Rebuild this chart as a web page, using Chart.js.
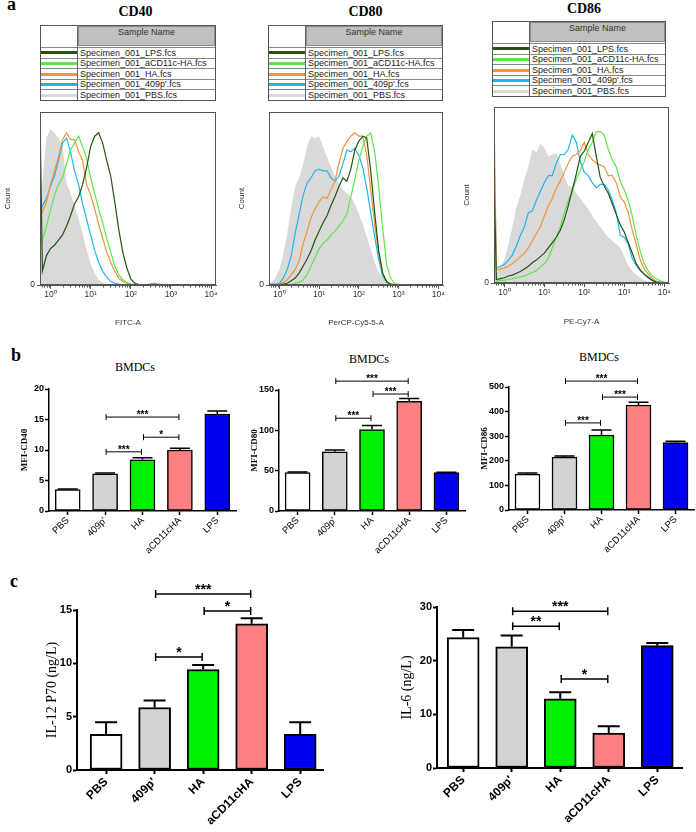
<!DOCTYPE html>
<html><head><meta charset="utf-8">
<script src="https://cdn.jsdelivr.net/npm/chart.js@4.4.1/dist/chart.umd.min.js"></script>
<style>
html,body{margin:0;padding:0;background:#fff;}
#page{position:relative;width:696px;height:832px;overflow:hidden;background:#fff;}
.t{position:absolute;white-space:nowrap;line-height:1;color:#000;}
canvas{position:absolute;}
</style></head>
<body><div id="page"></div>
<script>
// ---------- DATA ----------
const legendNames = ['Specimen_001_LPS.fcs','Specimen_001_aCD11c-HA.fcs','Specimen_001_HA.fcs',"Specimen_001_409p'.fcs",'Specimen_001_PBS.fcs'];
const seriesColors = ['#245414','#5fe64a','#f39237','#22b4ec','#d9d9d9'];
const decadeLabels = ['10\u2070','10\u00b9','10\u00b2','10\u00b3','10\u2074'];
// log10 fluorescence bins
const logGrid = [-0.26,-0.2,-0.1,0,0.1,0.2,0.3,0.4,0.5,0.6,0.7,0.8,0.9,1,1.1,1.2,1.3,1.4,1.5,1.6,1.7,1.8,1.9,2,2.1,2.2,2.3,2.4,2.5,2.6,2.7,2.8,2.9,3,3.1,3.2,3.3,3.4,3.5,3.6,3.7,3.8,3.9,4,4.1];

const cd40LPS = [98,8,17, 21,23,26,29,34,40,47,51,58,68, 80,86,88,82,72,63,48,32,19,10, 3.5,1,0.3,0,0,0,0,0,0,0, 0,0,0,0,0,0,0,0,0,0, 0,0];
const cd40aCD = [22,26,34, 43,52,58,62,70,78,82,86,80,73, 62,53,44,36,27,19,11,6,3,1.5, 0.5,0.2,0,0,0,0,0,0,0,0, 0,0,0,0,0,0,0,0,0,0, 0,0];
const cd40HA  = [45,42,48, 58,66,74,84,88,84,84,77,72,58, 52,44,35,27,19,13,8,4,2,1, 0.3,0,0,0,0,0.8,1,0.5,0,0, 0,0,0,0,0,0,0,0,0,0, 0,0];
const cd40P409= [40,46,50, 57,63,72,82,85,77,66,58,47,38, 29,20,13,8,4.5,2,1,0.5,0,0, 0,0,0,0,0,0,0,0,0,0, 0,0,0,0,0,0,0,0,0,0, 0,0];
const cd40PBS = [40,60,85, 90,88,85,81,59,53,46,38,30,20, 12.5,7,3,1.3,0.5,0,0,0,0,0, 0,0,0,0,0,0,0,0,0,0, 0,0,0,0,0,0,0,0,0,0, 0,0];

const cd80LPS = [0,0,0, 0.3,0.5,1,2.5,4,7,11,15,20,26, 31,36,40,46,51,57,62,60,67,78, 83,86,85,66,42,20,7,2,0.5,0.2, 0,0,0,0,0,0,0,0,0,0, 0,0];
const cd80aCD = [0,0,0, 0,0,0,0.3,1,1.5,3,6,11,16, 21,24,26,29,31,34,37,41,51,61, 72,80,86,88,77,57,33,12,4,1, 0.3,0,0,0,0,0,0,0,0,0, 0,0];
const cd80HA  = [0,0,0.2, 0.5,1.5,3,6,9,14,24,31,39,44, 48,51,50,55,60,70,79,83,86,88, 86,86,75,55,35,19,7,2,0.5,0, 0,0,0,0,0,0,0,0,0,0, 0,0];
const cd80P409= [0.5,0.5,0.5, 1,4,9,17,30,41,52,59,62,66, 67,66,66,62,60,63,70,78,77,79, 75,68,56,42,28,15,5,1.5,0.3,0, 0,0,0,0,0,0,0,0,0,0, 0,0];
const cd80PBS = [1,1.5,4, 9,18,30,45,57,62,70,80,86,85, 86,80,74,68,63,59,55,53,51,47, 41,35,28,21,13,7.5,4,2,1,0.3, 0,0,0,0,0,0,0,0,0,0, 0,0];

const cd86LPS = [60,2,2.5, 3,4,4.5,5.5,6.5,8,9.5,11.5,13,15, 17,20,23,26,30,36,44,53,62,72, 75,80,85,72,60,55,51,45,39,33, 29,23,17,11,7.5,5,3,1.5,0.5,0.2, 0,0];
const cd86aCD = [30,1,1.5, 1.5,2,2.5,3,3.5,4,5,6,7,9, 11,14,20,26,32,40,47,52,59,64, 69,76,80,86,86,84,76,70,66,58, 53,47,38,27,18,11,7,4,2.5,1.2, 0.5,0.2];
const cd86HA  = [97,7.5,8, 8.5,9.5,11,13,15,17,20,24,28,32, 38,44,48,54,58,63,68,72,73,75, 80,73,70,68,67,66,61,61,57,49, 46,40,30,22,13,8,5,2.5,1,0.3, 0,0];
const cd86P409= [78,8.5,9.5, 10.5,13,16,21,27,32,40,41,47,52, 57,61,61,68,73,73,76,84,80,69, 63,61,57,54,56,56,53,47,40,27, 26,22,14,10,7,5,3.5,2,1,0.5, 0.2,0];
const cd86PBS = [3,6,9, 13,22,32,43,50,59,66,76,74,79, 77,72,73,74,68,61,55,55,51,48, 45,42,38,35,32,29,26,24,22,20, 15,10,7,4.5,3,1.5,0.8,0.3,0,0, 0,0];

const categories = ['PBS',"409p'",'HA','aCD11cHA','LPS'];
const barColors = ['#ffffff','#d3d3d3','#00ee00','#ff8080','#0000f0'];

const mfiCD40 = [3.5, 6.1, 8.4, 10.0, 15.9];
const errCD40 = [0.1, 0.15, 0.35, 0.3, 0.5];
const mfiCD80 = [47.5, 73.5, 101, 136, 47.5];
const errCD80 = [0.8, 2, 5, 3.6, 0.6];
const mfiCD86 = [146, 215, 305, 427, 274];
const errCD86 = [4, 5, 20, 11, 5];
const il12 = [3.35, 5.86, 9.42, 13.7, 3.35];
const errIL12 = [1.12, 0.65, 0.42, 0.53, 1.12];
const il6 = [24.3, 22.6, 12.9, 6.5, 22.8];
const errIL6 = [1.4, 2.1, 1.2, 1.3, 0.5];

// significance brackets: [fromIndex, toIndex, yValue, label]
const sigCD40 = [[1,3,15.4,'***'],[2,3,12.1,'*'],[1,2,9.7,'***']];
const sigCD80 = [[1,3,161,'***'],[2,3,145,'***'],[1,2,115,'***']];
const sigCD86 = [[1,3,524,'***'],[2,3,459,'***'],[1,2,354,'***']];
const sigIL12 = [[1,3,16.5,'***'],[2,3,14.9,'*'],[1,2,10.6,'*']];
const sigIL6  = [[1,3,29.2,'***'],[1,2,26.4,'**'],[2,3,16.6,'*']];

// ---------- LAYOUT HELPERS ----------
const SANS = "'Liberation Sans', Arial, sans-serif";
const SERIF = "'Liberation Serif', 'Times New Roman', serif";
const page = document.getElementById('page');

function txt(s, x, baseline, size, family, weight, center) {
  const d = document.createElement('div');
  d.className = 't';
  d.textContent = s;
  d.style.font = `${weight} ${size}px ${family}`;
  d.style.lineHeight = '1';
  d.style.left = x + 'px';
  d.style.top = (baseline - 0.84 * size) + 'px';
  if (center) d.style.transform = 'translateX(-50%)';
  page.appendChild(d);
}
function mkCanvas(left, top, w, h) {
  const c = document.createElement('canvas');
  c.width = w; c.height = h;
  c.style.left = left + 'px'; c.style.top = top + 'px';
  c.style.width = w + 'px'; c.style.height = h + 'px';
  page.appendChild(c);
  return c;
}
function legendTable(left, top, width) {
  const box = document.createElement('div');
  box.style.cssText = `position:absolute;left:${left}px;top:${top}px;width:${width}px;height:76px;border:1px solid #555;box-sizing:border-box;background:#fff;font:9px ${SANS};color:#222;`;
  const sw = 36;
  const vline = document.createElement('div');
  vline.style.cssText = `position:absolute;left:${sw}px;top:0;width:1px;height:74px;background:#666;`;
  const head = document.createElement('div');
  head.style.cssText = `position:absolute;left:${sw+1}px;top:0;right:0;height:20px;background:#c0c0c0;border:1px solid #8a8a8a;box-sizing:border-box;text-align:center;line-height:11px;color:#333;`;
  head.textContent = 'Sample Name';
  box.appendChild(head);
  legendNames.forEach((n, i) => {
    const y = 21 + i * 10.6;
    const line = document.createElement('div');
    line.style.cssText = `position:absolute;left:0;right:0;top:${y}px;height:1px;background:#888;`;
    box.appendChild(line);
    const s = document.createElement('div');
    s.style.cssText = `position:absolute;left:0;width:${sw}px;top:${y+4.3}px;height:3px;background:${seriesColors[i]};`;
    box.appendChild(s);
    const t = document.createElement('div');
    t.style.cssText = `position:absolute;left:${sw+3}px;top:${y+0.5}px;height:10px;line-height:10px;white-space:nowrap;`;
    t.textContent = n;
    box.appendChild(t);
  });
  box.appendChild(vline);
  page.appendChild(box);
}

// ---------- PLUGINS ----------
const histDeco = {
  id: 'histDeco',
  afterDatasetsDraw(chart) {
    const {ctx, chartArea: a} = chart;
    const xs = chart.scales.x;
    ctx.save();
    ctx.strokeStyle = '#555'; ctx.lineWidth = 1;
    ctx.strokeRect(a.left + 0.5, a.top + 0.5, a.right - a.left - 1, a.bottom - a.top - 1);
    ctx.beginPath();
    for (let n = -1; n < 4; n++) for (let k = 2; k < 10; k++) {
      const v = n + Math.log10(k);
      if (v < xs.min || v > xs.max) continue;
      const x = Math.round(xs.getPixelForValue(v)) + 0.5;
      ctx.moveTo(x, a.bottom); ctx.lineTo(x, a.bottom + 2.5);
    }
    ctx.stroke();
    ctx.restore();
  }
};
function annot(o) {
  return {
    id: 'annot',
    afterDatasetsDraw(chart) {
      const ctx = chart.ctx, xs = chart.scales.x, ys = chart.scales.y;
      ctx.save();
      ctx.strokeStyle = '#000'; ctx.fillStyle = '#000';
      ctx.lineWidth = o.ew;
      o.vals.forEach((v, i) => {
        const x = xs.getPixelForValue(i), y0 = ys.getPixelForValue(v), y1 = ys.getPixelForValue(v + o.errs[i]);
        ctx.beginPath();
        ctx.moveTo(x, y0); ctx.lineTo(x, y1);
        ctx.moveTo(x - o.cap / 2, y1); ctx.lineTo(x + o.cap / 2, y1);
        ctx.stroke();
      });
      ctx.lineWidth = o.bkW;
      ctx.font = o.starFont; ctx.textAlign = 'center'; ctx.textBaseline = 'alphabetic';
      o.brackets.forEach(([a, b, yv, lab]) => {
        const x1 = xs.getPixelForValue(a) + 1, x2 = xs.getPixelForValue(b) - 1, y = ys.getPixelForValue(yv);
        ctx.beginPath();
        ctx.moveTo(x1, y); ctx.lineTo(x2, y);
        ctx.moveTo(x1, y - o.bkH); ctx.lineTo(x1, y + o.bkH);
        ctx.moveTo(x2, y - o.bkH); ctx.lineTo(x2, y + o.bkH);
        ctx.stroke();
        ctx.fillText(lab, (x1 + x2) / 2, y - o.starGap);
      });
      ctx.restore();
    }
  };
}

// ---------- CHART BUILDERS ----------
function histogram(canvas, series, xTitle, g) {
  return new Chart(canvas, {
    type: 'line',
    data: { datasets: series.map((arr, i) => ({
      data: logGrid.map((x, k) => ({x: x, y: arr[k]})),
      borderColor: seriesColors[i], backgroundColor: seriesColors[i],
      borderWidth: i === 4 ? 0 : 1.2, fill: i === 4 ? 'origin' : false,
      pointRadius: 0, tension: 0
    })) },
    options: {
      responsive: false, animation: false, devicePixelRatio: 1,
      layout: { padding: g.pad },
      plugins: { legend: {display: false}, tooltip: {enabled: false} },
      scales: {
        x: { type: 'linear', min: -0.26, max: 4.12, offset: false,
          afterBuildTicks: s => { s.ticks = decadeLabels.map((l, i) => ({value: i})); },
          afterFit: s => { s.height = g.xH; s.paddingLeft = 0; s.paddingRight = 0; },
          ticks: { callback: v => decadeLabels[v], minRotation: 0, maxRotation: 0, autoSkip: false, padding: 1, color: '#333', font: {family: SANS, size: 8.5} },
          grid: { drawOnChartArea: false, tickLength: 4, tickColor: '#555', offset: false },
          border: { color: '#555' },
          title: { display: true, text: xTitle, color: '#333', font: {family: SANS, size: 8}, padding: {top: 0, bottom: g.xtPad} } },
        y: { min: 0, max: 100,
          afterBuildTicks: s => { s.ticks = [{value: 0}]; },
          afterFit: s => { s.width = 40; s.paddingTop = 0; s.paddingBottom = 0; },
          ticks: { color: '#333', font: {family: SANS, size: 8.5}, padding: 2 },
          grid: { drawOnChartArea: false, tickLength: 3, tickColor: '#555' },
          border: { color: '#555' },
          title: { display: true, text: 'Count', color: '#333', font: {family: SANS, size: 8}, padding: {top: g.ytPad, bottom: 0} } }
      }
    },
    plugins: [histDeco]
  });
}

function barChart(canvas, o) {
  return new Chart(canvas, {
    type: 'bar',
    data: { datasets: [{
      data: o.vals.map((v, i) => ({x: i, y: v})),
      backgroundColor: barColors, borderColor: '#000', borderWidth: o.bw,
      borderSkipped: false, barThickness: o.barW
    }] },
    options: {
      responsive: false, animation: false, devicePixelRatio: 1,
      layout: { padding: o.pad },
      plugins: { legend: {display: false}, tooltip: {enabled: false} },
      scales: {
        x: { type: 'linear', min: o.xMin, max: o.xMax, offset: false,
          afterBuildTicks: s => { s.ticks = categories.map((c, i) => ({value: i})); },
          afterFit: s => { s.height = o.xH; s.paddingLeft = 0; s.paddingRight = 0; },
          ticks: { callback: v => categories[v], minRotation: 45, maxRotation: 45, autoSkip: false, padding: o.xPad, color: '#000', font: o.xFont },
          grid: { drawOnChartArea: false, tickLength: 4, tickColor: '#000', tickWidth: o.aw, offset: false },
          border: { color: '#000', width: o.aw } },
        y: { min: 0, max: o.yMax,
          afterFit: s => { s.width = o.yW; s.paddingTop = 0; s.paddingBottom = 0; },
          ticks: { stepSize: o.yStep, color: '#000', font: o.yFont, padding: 1 },
          grid: { drawOnChartArea: false, tickLength: 4, tickColor: '#000', tickWidth: o.aw },
          border: { color: '#000', width: o.aw },
          title: { display: true, text: o.yTitle, color: '#000', font: o.tFont, padding: {top: o.tPad, bottom: 0} } }
      }
    },
    plugins: [annot(o)]
  });
}

// ---------- TEXT ----------
txt('a', 7, 10, 18, SERIF, 'bold', false);
txt('b', 11, 361, 18, SERIF, 'bold', false);
txt('c', 10, 587, 18, SERIF, 'bold', false);
txt('CD40', 135.5, 16.7, 14, SERIF, 'bold', true);
txt('CD80', 365.5, 16.7, 14, SERIF, 'bold', true);
txt('CD86', 584, 14, 14, SERIF, 'bold', true);
txt('BMDCs', 135, 370.7, 12, SERIF, 'normal', true);
txt('BMDCs', 369, 363, 12, SERIF, 'normal', true);
txt('BMDCs', 599, 361, 12, SERIF, 'normal', true);

legendTable(40, 25, 176);
legendTable(268, 25, 175);
legendTable(492, 21, 174);

// ---------- HISTOGRAMS ----------
histogram(mkCanvas(0, 105, 225, 232), [cd40LPS, cd40aCD, cd40HA, cd40P409, cd40PBS], 'FITC-A',
  {pad: {left: 0, right: 9, top: 7, bottom: 0}, xH: 52, xtPad: 9.2, ytPad: 3.2});
histogram(mkCanvas(229, 105, 225, 232), [cd80LPS, cd80aCD, cd80HA, cd80P409, cd80PBS], 'PerCP-Cy5-5-A',
  {pad: {left: 0, right: 11, top: 7, bottom: 0}, xH: 52, xtPad: 9.2, ytPad: 8.2});
histogram(mkCanvas(454, 100, 225, 237), [cd86LPS, cd86aCD, cd86HA, cd86P409, cd86PBS], 'PE-Cy7-A',
  {pad: {left: 0, right: 10, top: 7, bottom: 0}, xH: 54, xtPad: 10.2, ytPad: 8.2});

// ---------- BAR CHARTS ----------
const bStyle = {
  yW: 49, xMin: -0.5, xMax: 4.5, xPad: 0,
  xFont: {family: SANS, size: 9.5}, yFont: {family: SANS, size: 9, weight: 'bold'},
  tFont: {family: SERIF, size: 9, weight: 'bold'}, tPad: 19.6,
  barW: 25, bw: 1.5, aw: 1.5, cap: 20, ew: 1.5, bkW: 1, bkH: 3,
  starFont: `bold 10px ${SANS}`, starGap: -1
};
barChart(mkCanvas(0, 370, 240, 195), Object.assign({}, bStyle, {
  vals: mfiCD40, errs: errCD40, brackets: sigCD40, yMax: 20, yStep: 5, yTitle: 'MFI-CD40',
  pad: {left: 0, right: 4, top: 19, bottom: 0}, xH: 54 }));
barChart(mkCanvas(230, 370, 240, 195), Object.assign({}, bStyle, {
  vals: mfiCD80, errs: errCD80, brackets: sigCD80, yMax: 150, yStep: 50, yTitle: 'MFI-CD80',
  pad: {left: 0, right: 5, top: 20, bottom: 0}, xH: 54 }));
barChart(mkCanvas(460, 370, 236, 195), Object.assign({}, bStyle, {
  vals: mfiCD86, errs: errCD86, brackets: sigCD86, yMax: 500, yStep: 100, yTitle: 'MFI-CD86',
  pad: {left: 0, right: 2, top: 17, bottom: 0}, xH: 55 }));

const cStyle = {
  xPad: 1, xFont: {family: SANS, size: 12, weight: 'bold'}, yFont: {family: SANS, size: 11, weight: 'bold'},
  tFont: {family: SERIF, size: 14}, barW: 32, bw: 2, aw: 2, cap: 22, ew: 2, bkW: 1.5, bkH: 4,
  starFont: `bold 14px ${SANS}`, starGap: 0
};
barChart(mkCanvas(0, 575, 345, 257), Object.assign({}, cStyle, {
  vals: il12, errs: errIL12, brackets: sigIL12, yMax: 15, yStep: 5, yTitle: 'IL-12 P70 (ng/L)',
  yW: 77, xMin: -0.6, xMax: 4.47, tPad: 43.6, pad: {left: 0, right: 22, top: 35, bottom: 0}, xH: 62 }));
barChart(mkCanvas(345, 575, 351, 257), Object.assign({}, cStyle, {
  vals: il6, errs: errIL6, brackets: sigIL6, yMax: 30, yStep: 10, yTitle: 'IL-6 (ng/L)',
  yW: 92, xMin: -0.54, xMax: 4.51, tPad: 53.6, pad: {left: 0, right: 14, top: 32, bottom: 0}, xH: 64 }));
</script>
</body></html>
